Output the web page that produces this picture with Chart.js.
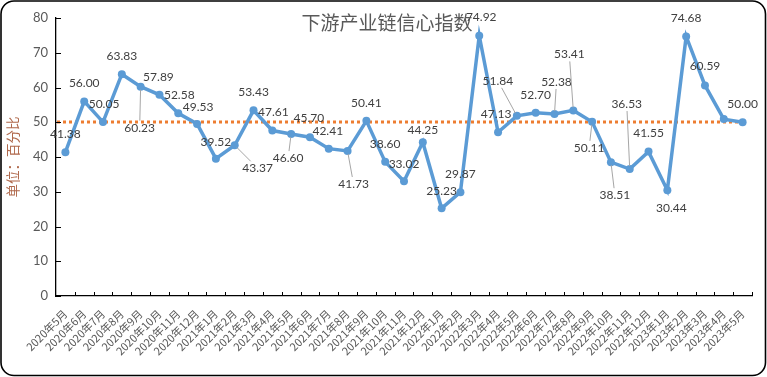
<!DOCTYPE html>
<html><head><meta charset="utf-8">
<script src="https://cdn.jsdelivr.net/npm/chart.js@4.4.0/dist/chart.umd.min.js"></script>
<style>html,body{margin:0;padding:0;background:#fff;}canvas{display:block;}</style>
</head><body>
<canvas id="c" width="767" height="377"></canvas>
<script>
const chartTitle = '下游产业链信心指数';
const yAxisTitle = '单位：百分比';
const months = [
  '2020年5月','2020年6月','2020年7月','2020年8月','2020年9月','2020年10月','2020年11月','2020年12月',
  '2021年1月','2021年2月','2021年3月','2021年4月','2021年5月','2021年6月','2021年7月','2021年8月',
  '2021年9月','2021年10月','2021年11月','2021年12月',
  '2022年1月','2022年2月','2022年3月','2022年4月','2022年5月','2022年6月','2022年7月','2022年8月',
  '2022年9月','2022年10月','2022年11月','2022年12月',
  '2023年1月','2023年2月','2023年3月','2023年4月','2023年5月'
];
const confidenceIndex = [
  41.38, 56.00, 50.05, 63.83, 60.23, 57.89, 52.58, 49.53,
  39.52, 43.37, 53.43, 47.61, 46.60, 45.70, 42.41, 41.73,
  50.41, 38.60, 33.02, 44.25,
  25.23, 29.87, 74.92, 47.13, 51.84, 52.70, 52.38, 53.41,
  50.11, 38.51, 36.53, 41.55,
  30.44, 74.68, 60.59, 50.9, 50.00
];
const shownLabels = [
  true,true,true,true,true,true,true,true,
  true,true,true,true,true,true,true,true,
  true,true,true,true,
  true,true,true,true,true,true,true,true,
  true,true,true,true,
  true,true,true,false,true
];
const referenceLevel = 50;
const yMin = 0, yMax = 80, yStep = 10;

// label placement (pixel offsets from each point)
const labelOffsets = [
  [0,-18],[0,-18],[1,-18],[0,-18],[-1,41],[-1,-18],[1,-18],[1,-17],
  [0,-17],[23,23],[0,-18],[1,-18],[-3,24],[-1,-19],[-1,-18],[6,33],
  [0,-18],[0,-18],[0,-17],[0,-12],
  [0,-17],[0,-18],[2,-19],[-2,-18],[-19,-35],[0,-18],[2,-32],[-4,-56],
  [-3,26],[4,33],[-3,-65],[0,-18],
  [4,18],[0,-18],[0,-19],[0,0],[0,-18]
];

const NUM_FONT = "Lato, 'Noto Sans', sans-serif";
const CJK_FONT = "'Noto Sans CJK SC', sans-serif";

const framePlugin = {
  id: 'frame',
  beforeDraw(chart) {
    const ctx = chart.ctx;
    ctx.save();
    ctx.fillStyle = '#ffffff';
    ctx.fillRect(0, 0, chart.width, chart.height);
    ctx.beginPath();
    ctx.roundRect(1, 1, chart.width - 2.5, chart.height - 2.5, 13);
    ctx.lineWidth = 1.6;
    ctx.strokeStyle = '#000000';
    ctx.stroke();
    ctx.restore();
  }
};

const refLinePlugin = {
  id: 'refLine',
  beforeDatasetsDraw(chart) {
    const {ctx, scales: {x, y}} = chart;
    const py = Math.round(y.getPixelForValue(referenceLevel));
    ctx.save();
    ctx.strokeStyle = '#ED7D31';
    ctx.lineWidth = 3;
    ctx.setLineDash([3, 3]);
    ctx.beginPath();
    ctx.moveTo(x.left + 1, py);
    ctx.lineTo(x.getPixelForValue(months.length - 1), py);
    ctx.stroke();
    ctx.restore();
  }
};

const ticksPlugin = {
  id: 'innerTicks',
  afterDraw(chart) {
    const {ctx, scales: {x, y}} = chart;
    ctx.save();
    ctx.strokeStyle = '#000000';
    ctx.lineWidth = 1;
    ctx.beginPath();
    const step = (x.right - x.left) / months.length;
    for (let i = 1; i <= months.length; i++) {
      const px = Math.round(x.left + step * i) + 0.5;
      ctx.moveTo(px, y.bottom);
      ctx.lineTo(px, y.bottom - 4);
    }
    for (let v = yMin; v <= yMax; v += yStep) {
      const py = Math.round(y.getPixelForValue(v)) + 0.5;
      ctx.moveTo(x.left, py);
      ctx.lineTo(x.left + 5, py);
    }
    ctx.stroke();
    // title
    ctx.fillStyle = '#595959';
    ctx.font = "19px " + CJK_FONT;
    ctx.textAlign = 'center';
    ctx.textBaseline = 'middle';
    ctx.fillText(chartTitle, 387, 23);
    ctx.restore();
  }
};

const labelsPlugin = {
  id: 'dataLabels',
  afterDatasetsDraw(chart) {
    const {ctx} = chart;
    const meta = chart.getDatasetMeta(0);
    ctx.save();
    ctx.font = "12px " + NUM_FONT;
    ctx.textAlign = 'center';
    ctx.textBaseline = 'middle';
    meta.data.forEach((pt, i) => {
      if (!shownLabels[i]) return;
      const [dx, dy] = labelOffsets[i];
      const lx = pt.x + dx, ly = pt.y + dy;
      const dist = Math.hypot(dx, dy);
      if (dist > 22) {
        const hw = 15, hh = 7;
        const tx = dx !== 0 ? hw / Math.abs(dx) : Infinity;
        const ty = dy !== 0 ? hh / Math.abs(dy) : Infinity;
        const t = 1 - Math.min(tx, ty);
        const s = 3 / dist;
        ctx.strokeStyle = '#A6A6A6';
        ctx.lineWidth = 1;
        ctx.beginPath();
        ctx.moveTo(pt.x + dx * s, pt.y + dy * s);
        ctx.lineTo(pt.x + dx * t, pt.y + dy * t);
        ctx.stroke();
      }
      ctx.fillStyle = '#404040';
      ctx.fillText(confidenceIndex[i].toFixed(2), lx, ly);
    });
    ctx.restore();
  }
};

new Chart(document.getElementById('c'), {
  type: 'line',
  data: {
    labels: months,
    datasets: [{
      data: confidenceIndex,
      borderColor: '#5B9BD5',
      backgroundColor: '#5B9BD5',
      borderWidth: 3.5,
      pointRadius: 4,
      pointBorderWidth: 0,
      pointBackgroundColor: '#5B9BD5',
      tension: 0,
      clip: false
    }]
  },
  options: {
    responsive: false,
    animation: false,
    devicePixelRatio: 1,
    layout: {padding: {left: 4, right: 15, top: 18, bottom: 0}},
    plugins: {legend: {display: false}, tooltip: {enabled: false}, title: {display: false}},
    scales: {
      x: {
        type: 'category',
        offset: true,
        grid: {display: false, drawTicks: false},
        border: {display: true, color: '#000000', width: 1.3},
        ticks: {
          autoSkip: false, maxRotation: 45, minRotation: 45,
          color: '#595959', font: {family: CJK_FONT, size: 11}, padding: 11
        },
        afterFit(scale) { scale.height = 81; }
      },
      y: {
        min: yMin, max: yMax,
        grid: {display: false, drawTicks: false},
        border: {display: true, color: '#000000', width: 1.3},
        ticks: {stepSize: yStep, color: '#595959', font: {family: NUM_FONT, size: 13}, padding: 8},
        title: {display: true, text: yAxisTitle, color: '#B0694C', font: {family: CJK_FONT, size: 13.5}, padding: {top: 1, bottom: 0}},
        afterFit(scale) { scale.width = 52; }
      }
    }
  },
  plugins: [framePlugin, refLinePlugin, ticksPlugin, labelsPlugin]
});
</script>
</body></html>
